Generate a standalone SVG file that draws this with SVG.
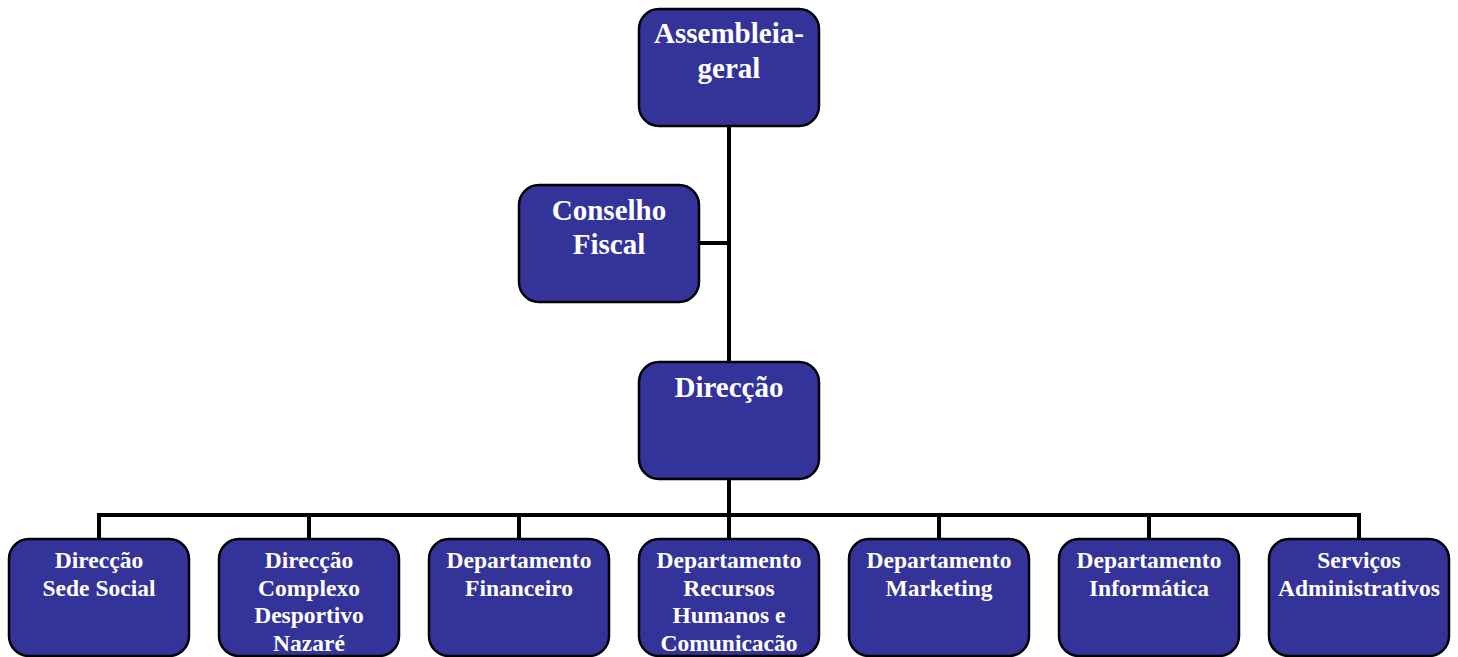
<svg xmlns="http://www.w3.org/2000/svg" width="1458" height="657" viewBox="0 0 1458 657">
<style>
.box{fill:#333399;stroke:#000;stroke-width:2.5}
.big{font-family:"Liberation Serif",serif;font-weight:bold;font-size:29px;fill:#fff;text-anchor:middle}
.sm{font-family:"Liberation Serif",serif;font-weight:bold;font-size:23.5px;fill:#fff;text-anchor:middle}
.ln{stroke:#000;stroke-width:4;fill:none}
</style>
<rect width="1458" height="657" fill="#fff"/>
<g id="connectors">
<line class="ln" x1="729" y1="126" x2="729" y2="362"/>
<line class="ln" x1="699" y1="243" x2="729" y2="243"/>
<line class="ln" x1="729" y1="479" x2="729" y2="539"/>
<polyline class="ln" points="99,539 99,515 1359,515 1359,539"/>
<line class="ln" x1="309" y1="515" x2="309" y2="539"/>
<line class="ln" x1="519" y1="515" x2="519" y2="539"/>
<line class="ln" x1="939" y1="515" x2="939" y2="539"/>
<line class="ln" x1="1149" y1="515" x2="1149" y2="539"/>
</g>
<g id="assembleia"><rect class="box" x="639" y="9" width="180" height="117" rx="20"/><text class="big" x="729" y="43">Assembleia-</text><text class="big" x="729" y="78">geral</text></g>
<g id="conselho"><rect class="box" x="519" y="185" width="180" height="117" rx="20"/><text class="big" x="609" y="220">Conselho</text><text class="big" x="609" y="254">Fiscal</text></g>
<g id="direccao"><rect class="box" x="639" y="362" width="180" height="117" rx="20"/><text class="big" x="729" y="397">Direcção</text></g>
<g id="sede"><rect class="box" x="9" y="539" width="180" height="117" rx="20"/><text class="sm" x="99" y="568">Direcção</text><text class="sm" x="99" y="596">Sede Social</text></g>
<g id="complexo"><rect class="box" x="219" y="539" width="180" height="117" rx="20"/><text class="sm" x="309" y="568">Direcção</text><text class="sm" x="309" y="596">Complexo</text><text class="sm" x="309" y="623">Desportivo</text><text class="sm" x="309" y="651">Nazaré</text></g>
<g id="financeiro"><rect class="box" x="429" y="539" width="180" height="117" rx="20"/><text class="sm" x="519" y="568">Departamento</text><text class="sm" x="519" y="596">Financeiro</text></g>
<g id="rh"><rect class="box" x="639" y="539" width="180" height="117" rx="20"/><text class="sm" x="729" y="568">Departamento</text><text class="sm" x="729" y="596">Recursos</text><text class="sm" x="729" y="623">Humanos e</text><text class="sm" x="729" y="651">Comunicacão</text></g>
<g id="marketing"><rect class="box" x="849" y="539" width="180" height="117" rx="20"/><text class="sm" x="939" y="568">Departamento</text><text class="sm" x="939" y="596">Marketing</text></g>
<g id="informatica"><rect class="box" x="1059" y="539" width="180" height="117" rx="20"/><text class="sm" x="1149" y="568">Departamento</text><text class="sm" x="1149" y="596">Informática</text></g>
<g id="servicos"><rect class="box" x="1269" y="539" width="180" height="117" rx="20"/><text class="sm" x="1359" y="568">Serviços</text><text class="sm" x="1359" y="596">Administrativos</text></g>
</svg>
